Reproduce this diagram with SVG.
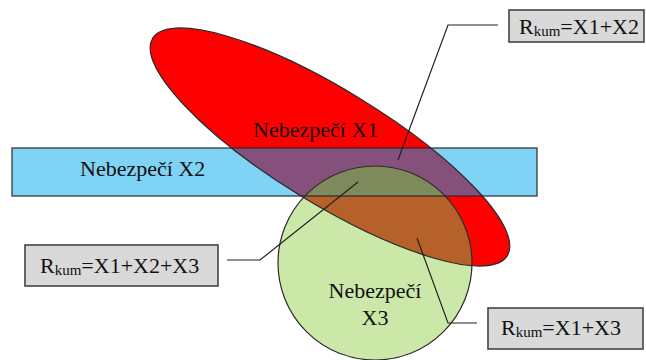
<svg xmlns="http://www.w3.org/2000/svg" width="646" height="360" viewBox="0 0 646 360">
<style>
.t{font-family:"Liberation Serif","Times New Roman",serif;font-size:22px;fill:#111}
.sub{font-size:15px}
.ol{fill:none;stroke:#2a2a2a;stroke-width:1.2}
.box{fill:#d9d9d9;stroke:#444;stroke-width:1.6}
.con{fill:none;stroke:#222;stroke-width:1.2}
</style>
<defs>
<ellipse id="ell" cx="330" cy="147" rx="208" ry="57" transform="rotate(31.5 330 147)"/>
<circle id="cir" cx="375" cy="263" r="97"/>
<rect id="rct" x="12" y="148" width="525" height="48"/>
<clipPath id="clipR"><use href="#rct"/></clipPath>
<clipPath id="clipE"><use href="#ell"/></clipPath>
</defs>
<rect width="646" height="360" fill="#fff"/>
<g id="fills">
<use href="#rct" fill="#7fd3f5"/>
<use href="#ell" fill="#ff0000"/>
<use href="#cir" fill="#cbe8a8"/>
<g clip-path="url(#clipR)"><use href="#ell" fill="#86507c"/></g>
<g clip-path="url(#clipR)"><use href="#cir" fill="#9fd6bc"/></g>
<g clip-path="url(#clipE)"><use href="#cir" fill="#b6602a"/></g>
<g clip-path="url(#clipE)"><g clip-path="url(#clipR)"><use href="#cir" fill="#7f8a5c"/></g></g>
</g>
<g id="node-x2"><use href="#rct" class="ol"/><text class="t" x="80" y="176">Nebezpečí X2</text></g>
<g id="node-x1"><use href="#ell" class="ol"/><text class="t" x="253" y="137">Nebezpečí X1</text></g>
<g id="node-x3"><use href="#cir" class="ol"/><text class="t" x="375" y="298" text-anchor="middle">Nebezpečí</text><text class="t" x="375" y="325" text-anchor="middle">X3</text></g>
<g id="connectors">
<polyline class="con" points="498,25 448,25 398,160"/>
<polyline class="con" points="227,260 260,260 358,182"/>
<polyline class="con" points="477,323 448,323 417,238"/>
</g>
<g id="label-x1x2"><rect class="box" x="509" y="10" width="135" height="32"/><text class="t" x="519" y="34">R<tspan class="sub" dy="2">kum</tspan><tspan dy="-2">=X1+X2</tspan></text></g>
<g id="label-x1x2x3"><rect class="box" x="25" y="245" width="193" height="41"/><text class="t" x="40" y="273">R<tspan class="sub" dy="2">kum</tspan><tspan dy="-2">=X1+X2+X3</tspan></text></g>
<g id="label-x1x3"><rect class="box" x="488" y="308" width="155" height="41"/><text class="t" x="501" y="335">R<tspan class="sub" dy="2">kum</tspan><tspan dy="-2">=X1+X3</tspan></text></g>
</svg>
